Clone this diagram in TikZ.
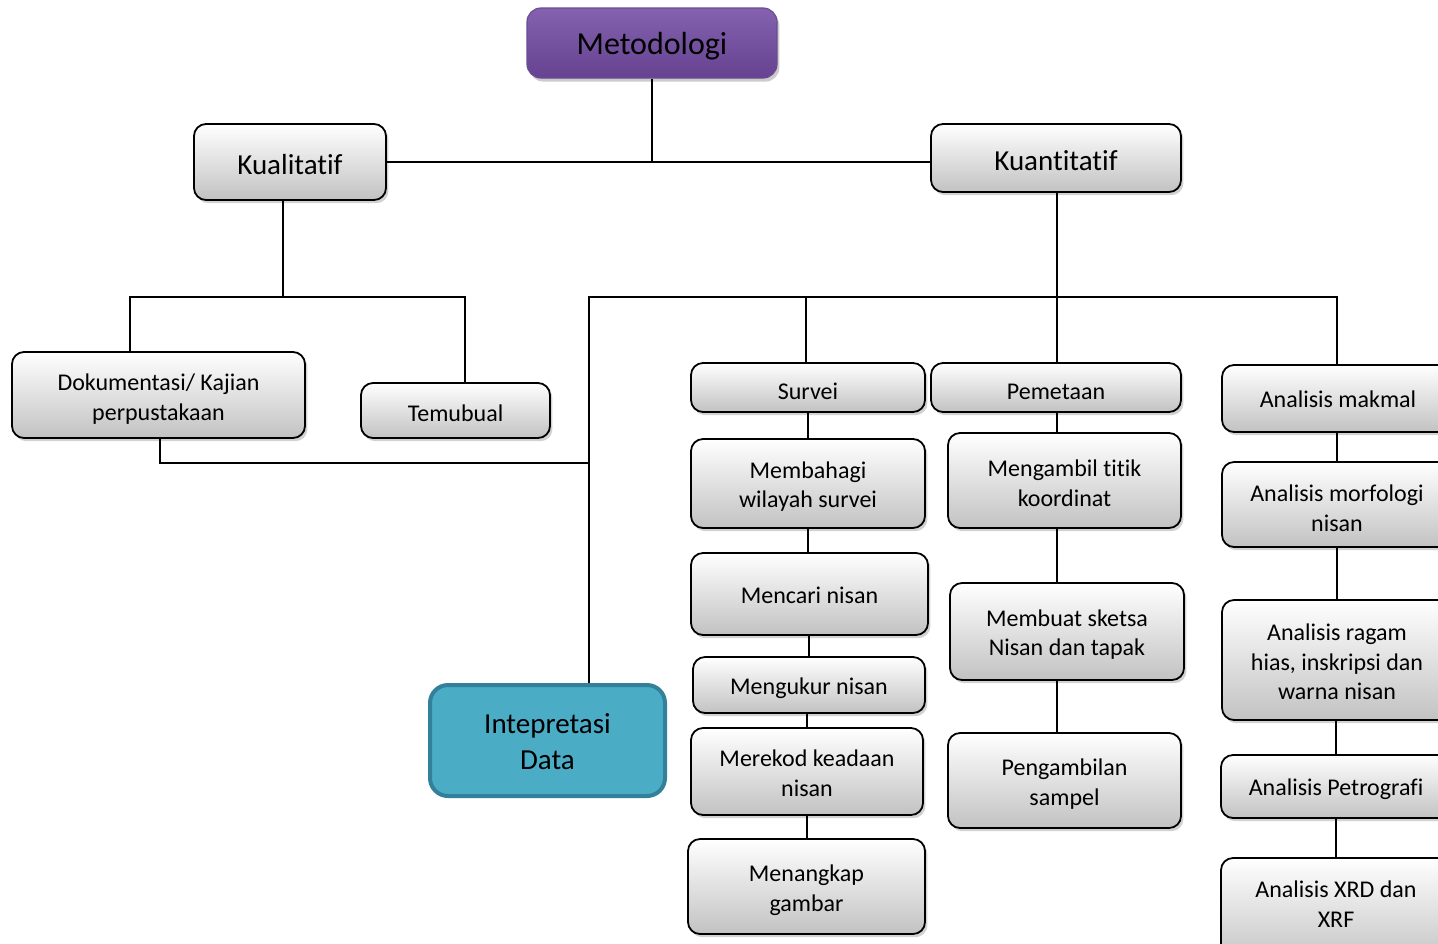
\documentclass[tikz,border=0pt]{standalone}
\usepackage{fontspec}
\setmainfont{Carlito}[Ligatures={NoCommon}]
\usetikzlibrary{shadows}
\definecolor{purpT}{HTML}{8462B0}
\definecolor{purpB}{HTML}{664290}
\definecolor{purpD}{HTML}{6A4C94}
\definecolor{tealF}{HTML}{4BACC6}
\definecolor{tealD}{HTML}{33809A}
\definecolor{grayB}{HTML}{C2C2C2}
\tikzset{
  box/.style={draw=black, line width=0.9pt, rounded corners=6pt, top color=white, bottom color=grayB,
    inner sep=0pt,
    drop shadow={opacity=0.35, shadow xshift=1.2pt, shadow yshift=-1.6pt}},
  box-t/.style={align=center, inner sep=0pt, font=\fontsize{12}{14.8}\selectfont},
  bigbox/.style={box},
  bigbox-t/.style={align=center, inner sep=0pt, font=\fontsize{14.5}{18}\selectfont},
  topbox/.style={draw=purpD, line width=0.6pt, rounded corners=7pt, top color=purpT, bottom color=purpB,
    inner sep=0pt,
    drop shadow={opacity=0.4, shadow xshift=1.2pt, shadow yshift=-1.8pt}},
  topbox-t/.style={align=center, inner sep=0pt, font=\fontsize{16}{19}\selectfont},
  intbox/.style={draw=tealD, line width=2pt, rounded corners=9pt, fill=tealF, inner sep=0pt},
  intbox-t/.style={align=center, inner sep=0pt, font=\fontsize{14.5}{18}\selectfont},
  link/.style={draw=black, line width=0.8pt}
}
\newcommand{\bx}[8][box]{%
  \node[#1, minimum width={(#5-#3)*0.5pt}, minimum height={(#6-#4)*0.5pt}] (#2) at ({(#3+#5)/2},{(#4+#6)/2}) {};
  \node[#1-t] (#2t) at ([yshift=#8]#2.center) {#7};}
\begin{document}
\begin{tikzpicture}[x=0.5pt,y=-0.5pt]
\clip (0,0) rectangle (1438,943);
\fill[white] (0,0) rectangle (1438,943);
% coordinates
\coordinate (j1) at (652,163);
\coordinate (k1) at (283,297);
\coordinate (kL) at (130,297);
\coordinate (kR) at (465,297);
\coordinate (q1) at (1057,297);
\coordinate (qL) at (589,297);
\coordinate (qR) at (1337,297);
\coordinate (qS) at (806,297);
\coordinate (d1) at (160,463);
% nodes
\bx[topbox]{met}{527}{8}{777}{78}{Metodologi}{-1.6pt}
\bx[bigbox]{kual}{194}{124}{386}{200}{Kualitatif}{-1.5pt}
\bx[bigbox]{kuan}{931}{124}{1181}{192}{Kuantitatif}{-1.2pt}
\bx{dok}{12}{352}{305}{438}{Dokumentasi/ Kajian\\perpustakaan}{-2pt}
\bx{tem}{361}{383}{550}{438}{Temubual}{-1.2pt}
\bx{sur}{691}{363}{925}{412}{Survei}{-2pt}
\bx{pem}{931}{363}{1181}{412}{Pemetaan}{-2pt}
\bx{mak}{1222}{365}{1454}{432}{Analisis makmal}{-0.4pt}
\bx{mem}{691}{439}{925}{528}{Membahagi\\wilayah survei}{-1.5pt}
\bx{men}{691}{553}{928}{635}{Mencari nisan}{-0.8pt}
\bx{meng}{693}{657}{925}{713}{Mengukur nisan}{-1.5pt}
\bx{mer}{691}{728}{923}{815}{Merekod keadaan\\nisan}{-1pt}
\bx{mek}{688}{839}{925}{934}{Menangkap\\gambar}{-2pt}
\bx{tit}{948}{433}{1181}{528}{Mengambil titik\\koordinat}{-1.5pt}
\bx{ske}{950}{583}{1184}{680}{Membuat sketsa\\Nisan dan tapak}{-1.5pt}
\bx{sam}{948}{733}{1181}{828}{Pengambilan\\sampel}{-1.8pt}
\node[box, minimum width={(1454-1222)*0.5pt}, minimum height={(547-462)*0.5pt}] (mor) at ({(1222+1454)/2},{(462+547)/2}) {};
\node[box-t] (mort) at (1337,508) {Analisis morfologi\\nisan};
\node[box, minimum width={(1454-1222)*0.5pt}, minimum height={(720-600)*0.5pt}] (rag) at ({(1222+1454)/2},{(600+720)/2}) {};
\node[box-t] (ragt) at (1337,662) {Analisis ragam\\hias, inskripsi dan\\warna nisan};
\node[box, minimum width={(1454-1221)*0.5pt}, minimum height={(818-755)*0.5pt}] (pet) at ({(1221+1454)/2},{(755+818)/2}) {};
\node[box-t] (pett) at (1336,789) {Analisis Petrografi};
\node[box, minimum width={(1454-1221)*0.5pt}, minimum height={(965-858)*0.5pt}] (xrd) at ({(1221+1454)/2},{(858+965)/2}) {};
\node[box-t] (xrdt) at (1336,904) {Analisis XRD dan\\XRF};
\bx[intbox]{int}{430}{685}{665}{796}{Intepretasi\\Data}{-0.5pt}
% connectors
\draw[link] (met.south) -- (j1);
\draw[link] (kual.east) -- (kual.east -| kuan.west);
\draw[link] (k1 |- kual.south) -- (k1);
\draw[link] (dok.north -| kL) -- (kL) -- (kR) -- (kR |- tem.north);
\draw[link] (kuan.south -| q1) -- (pem.north -| q1);
\draw[link] (int.north -| qL) -- (qL) -- (qR) -- (qR |- mak.north);
\draw[link] (qS) -- (qS |- sur.north);
\draw[link] (dok.south -| d1) -- (d1) -- (d1 -| qL);
\draw[link] (sur.south -| mem.north) -- (mem.north);
\draw[link] (mem.south) -- (men.north -| mem.south);
\draw[link] (men.south -| meng.north) -- (meng.north);
\draw[link] (meng.south -| mer.north) -- (mer.north);
\draw[link] (mer.south) -- (mek.north -| mer.south);
\draw[link] (tit.north -| q1) -- (pem.south -| q1);
\draw[link] (tit.south -| q1) -- (ske.north -| q1);
\draw[link] (ske.south -| q1) -- (sam.north -| q1);
\draw[link] (mak.south -| qR) -- (mor.north -| qR);
\draw[link] (mor.south -| ragt) -- (rag.north -| ragt);
\draw[link] (rag.south -| pett) -- (pet.north -| pett);
\draw[link] (pet.south -| xrdt) -- (xrd.north -| xrdt);
\end{tikzpicture}
\end{document}
